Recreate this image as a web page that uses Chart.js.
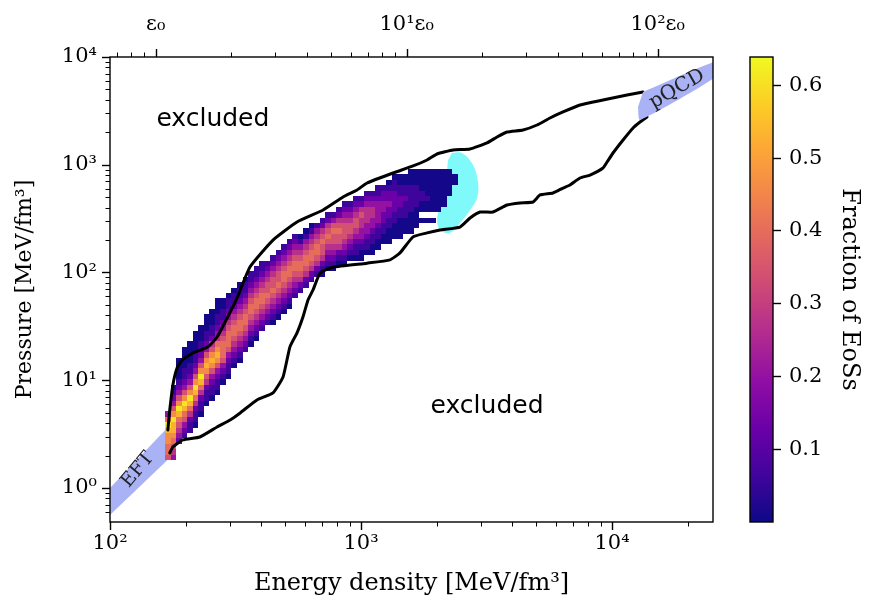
<!DOCTYPE html>
<html>
<head>
<meta charset="utf-8">
<script src="https://cdn.jsdelivr.net/npm/chart.js@4.4.1/dist/chart.umd.min.js"></script>
<style>
  html, body { margin: 0; padding: 0; background: #fff; }
  #wrap { width: 869px; height: 609px; }
</style>
</head>
<body>
<div id="wrap"><canvas id="chart" width="869" height="609"></canvas></div>
<script>
// ---------- data ----------
const eps0 = 152; // saturation energy density, MeV/fm^3

// histogram bins: uniform in log10(e) and log10(p)
const heatLogE0 = 2.22, heatLogEStep = 0.022;
const heatLogP0 = 0.26, heatLogPStep = 0.05;
// first pressure bin of each energy column, then the cells bottom -> top ('.' = empty)
const heatFirstRow = [0, 0, 3, 4, 5, 6, 8, 10, 11, 12, 14, 15, 17, 18, 20, 21, 22, 24, 25, 25,
  26, 27, 28, 30, 31, 32, 33, 34, 34, 35, 35, 36, 36, 37, 37, 37, 38, 38, 39, 40,
  40, 41, 41, 42, 42, 43, 44, 44, 44, 46, 47, 49, 51];
const heatCells = [
  '566778963', '34567889753210', '2345689753210000', '12356897532110000',
  '11246897532110000', '011246897532110000', '01124689753211000', '01124578753211000',
  '01123578754211000', '011235787643211000', '0123566654321100', '0112356665432110',
  '012345665432110', '012345665432110', '12345665432110', '01234566543211',
  '01234566543211', '1234566543211', '123456554321', '0123456554321',
  '0123456554321', '0123456654321', '0123456654321', '123456654321',
  '12456654310', '12456654310', '12456654310', '1245665431',
  '01245565421', '01234565421', '01234556531', '01245565421',
  '012345554321', '01234554321', '011234554321', '001233445421',
  '011233444321', '001123344321', '001123333211', '00112233221',
  '000112232210', '000112222110', '000011221100', '00011121100',
  '000011111000', '00001111000', '0.00110000', '0.00100000',
  '0.00000000', '00000000', '0000000', '00000', '00'];
// fraction of EoSs for each cell digit
const heatLevels = [0.01, 0.06, 0.13, 0.20, 0.27, 0.34, 0.40, 0.46, 0.53, 0.61];

// envelope of all EoSs
const upperE = [170, 173, 178, 185, 194, 214, 246, 267, 293, 321, 361, 446, 556, 706, 848, 964,
  1057, 1341, 1612, 1833, 2009, 2326, 2719, 3177, 3482, 3816, 4420, 5025, 5662, 6379, 7456,
  9207, 11477, 13291];
const upperP = [3.45, 5.3, 9.0, 13.0, 15.4, 17.9, 20.4, 25.2, 37.8, 58, 112.5, 200, 294, 380, 502, 583,
  677, 838, 974, 1107, 1258, 1371, 1400, 1592, 1809, 2013, 2101, 2338, 2716, 3088, 3585,
  3990, 4439, 4734];
const lowerE = [173, 178, 195, 228, 267, 301, 330, 385, 446, 489, 521, 556, 587, 615, 644, 687,
  773, 1057, 1305, 1430, 1612, 1833, 2064, 2480, 2719, 2980, 3358, 3816, 4300, 4845, 5167,
  5821, 6379, 6802, 7456, 8175, 9207, 9553, 10092, 11065, 12127, 12931, 13786];
const lowerP = [2.11, 2.4, 2.79, 2.97, 3.68, 4.28, 4.97, 6.56, 7.61, 10.7, 20.4, 27.5, 38.6, 55.6, 68.8, 99,
  112, 122, 131, 152, 214, 233, 248, 264, 320, 364, 364, 423, 442, 451, 524,
  547, 608, 649, 753, 803, 933, 1060, 1285, 1697, 2194, 2494, 2775];

// region of central densities of maximally massive stars
const cyanE = [2304, 2526, 2795, 2926, 2900, 2719, 2480, 2263, 2064, 2009, 2064, 2201, 2201, 2221];
const cyanP = [1285, 1285, 995, 677, 491, 380, 288, 233, 248, 307, 405, 583, 838, 1107];

// EFT and pQCD bands
const eftE = [95, 169, 177, 95];
const eftP = [0.88, 3.6, 2.0, 0.50];
const pqcdE = [13290, 27000, 27000, 12930, 12690];
const pqcdP = [4734, 9380, 6980, 2602, 3436];

// colour bar
const fracMin = 0, fracMax = 0.638;
const fracTicks = [0.1, 0.2, 0.3, 0.4, 0.5, 0.6];

// ---------- helpers ----------
const plasmaStops = [[13,8,135],[65,4,157],[106,0,168],[143,13,164],[177,42,144],[204,71,120],
  [225,100,98],[242,132,75],[252,166,54],[252,206,37],[240,249,33]];

function plasmaColor(v) {
  let t = (v - fracMin) / (fracMax - fracMin);
  t = Math.max(0, Math.min(1, t)) * (plasmaStops.length - 1);
  const i = Math.min(Math.floor(t), plasmaStops.length - 2);
  const f = t - i;
  const a = plasmaStops[i], b = plasmaStops[i + 1];
  return 'rgb(' + a.map((c, k) => Math.round(c + (b[k] - c) * f)).join(',') + ')';
}

function pts(es, ps) { return es.map((e, i) => ({ x: e, y: ps[i] })); }

const SUP = { '0': '⁰', '1': '¹', '2': '²', '3': '³', '4': '⁴', '-': '⁻' };
function sup(n) { return String(n).split('').map(c => SUP[c]).join(''); }
function isPow10(v) {
  const ex = Math.round(Math.log10(v));
  return Math.abs(v / Math.pow(10, ex) - 1) < 1e-6 ? ex : null;
}
function powLabel(v) {
  const ex = isPow10(v);
  return ex === null ? '' : '10' + sup(ex);
}
function epsLabel(v) {
  const ex = isPow10(v);
  if (ex === null) return '';
  return ex === 0 ? 'ε₀' : '10' + sup(ex) + 'ε₀';
}

const serif = 'DejaVu Serif';
const tickFont = { family: serif, size: 21 };

// ---------- plugins ----------
const heatmapPlugin = {
  id: 'heatmap',
  afterDatasetDraw(chart, args) {
    if (args.index !== 1) return; // right after the cyan region
    const { ctx, chartArea: a } = chart;
    const xs = chart.scales.x, ys = chart.scales.y;
    ctx.save();
    ctx.beginPath();
    ctx.rect(a.left, a.top, a.right - a.left, a.bottom - a.top);
    ctx.clip();
    heatCells.forEach((col, i) => {
      const x0 = Math.round(xs.getPixelForValue(Math.pow(10, heatLogE0 + i * heatLogEStep)));
      const x1 = Math.round(xs.getPixelForValue(Math.pow(10, heatLogE0 + (i + 1) * heatLogEStep)));
      for (let k = 0; k < col.length; k++) {
        if (col[k] === '.') continue;
        const j = heatFirstRow[i] + k;
        const y0 = Math.round(ys.getPixelForValue(Math.pow(10, heatLogP0 + j * heatLogPStep)));
        const y1 = Math.round(ys.getPixelForValue(Math.pow(10, heatLogP0 + (j + 1) * heatLogPStep)));
        ctx.fillStyle = plasmaColor(heatLevels[+col[k]]);
        ctx.fillRect(x0, y1, x1 - x0, y0 - y1);
      }
    });
    ctx.restore();
  }
};

function drawLogTicks(ctx, scale, side, edge) {
  for (const t of scale.ticks) {
    const v = t.value;
    if (!(v > 0)) continue;
    const ex = Math.floor(Math.log10(v) + 1e-9);
    const m = v / Math.pow(10, ex);
    if (Math.abs(m - Math.round(m)) > 1e-6) continue;
    const major = Math.round(m) === 1 || Math.round(m) === 10;
    const len = major ? 8 : 4.5;
    const p = Math.round(scale.getPixelForValue(v)) + 0.5;
    ctx.lineWidth = major ? 1.4 : 1;
    ctx.beginPath();
    if (side === 'left') { ctx.moveTo(edge, p); ctx.lineTo(edge - len, p); }
    if (side === 'bottom') { ctx.moveTo(p, edge); ctx.lineTo(p, edge + len); }
    if (side === 'top') { ctx.moveTo(p, edge); ctx.lineTo(p, edge - len); }
    ctx.stroke();
  }
}

const decorPlugin = {
  id: 'decor',
  afterDraw(chart) {
    const { ctx, chartArea: a, scales } = chart;
    const xs = scales.x, ys = scales.y, cb = scales.cb;
    ctx.save();
    // text annotations
    ctx.fillStyle = '#000';
    ctx.textAlign = 'center';
    ctx.textBaseline = 'middle';
    ctx.font = '25px "DejaVu Sans"';
    ctx.fillText('excluded', xs.getPixelForValue(257), ys.getPixelForValue(2602));
    ctx.fillText('excluded', xs.getPixelForValue(3177), ys.getPixelForValue(5.65));
    ctx.fillStyle = '#222';
    ctx.font = '19px "DejaVu Serif"';
    ctx.save();
    ctx.translate(xs.getPixelForValue(129), ys.getPixelForValue(1.47));
    ctx.rotate(-50 * Math.PI / 180);
    ctx.fillText('EFT', 0, 0);
    ctx.restore();
    ctx.save();
    ctx.font = '20px "DejaVu Serif"';
    ctx.translate(xs.getPixelForValue(18150), ys.getPixelForValue(5047));
    ctx.rotate(-30 * Math.PI / 180);
    ctx.fillText('pQCD', 0, 0);
    ctx.restore();

    // frame
    ctx.strokeStyle = '#000';
    ctx.lineWidth = 1.4;
    ctx.strokeRect(a.left, a.top, a.right - a.left, a.bottom - a.top);
    drawLogTicks(ctx, ys, 'left', a.left);
    drawLogTicks(ctx, xs, 'bottom', a.bottom);
    drawLogTicks(ctx, scales.x2, 'top', a.top);

    // colour bar
    const cbL = a.right + 37, cbW = 23;
    const yb = cb.getPixelForValue(fracMin), yt = cb.getPixelForValue(fracMax);
    const g = ctx.createLinearGradient(0, yb, 0, yt);
    plasmaStops.forEach((c, k) => g.addColorStop(k / (plasmaStops.length - 1), 'rgb(' + c.join(',') + ')'));
    ctx.fillStyle = g;
    ctx.fillRect(cbL, yt, cbW, yb - yt);
    ctx.lineWidth = 1.4;
    ctx.strokeRect(cbL, yt, cbW, yb - yt);
    ctx.fillStyle = '#000';
    ctx.textAlign = 'left';
    ctx.textBaseline = 'middle';
    ctx.font = tickFont.size + 'px "DejaVu Serif"';
    fracTicks.forEach(v => {
      const p = Math.round(cb.getPixelForValue(v)) + 0.5;
      ctx.beginPath();
      ctx.moveTo(cbL + cbW, p);
      ctx.lineTo(cbL + cbW + 8, p);
      ctx.stroke();
      ctx.fillText(v.toFixed(1), cbL + cbW + 16, p);
    });
    ctx.restore();
  }
};

// ---------- chart ----------
const bandColor = 'rgb(170,178,246)';
const lineStyle = { showLine: true, borderColor: '#000', borderWidth: 3, pointRadius: 0,
  tension: 0.15, borderJoinStyle: 'round', borderCapStyle: 'round', fill: false };

new Chart(document.getElementById('chart'), {
  type: 'scatter',
  data: {
    datasets: [
      { label: 'EFT', data: pts(eftE, eftP), showLine: true, fill: 'shape', backgroundColor: bandColor,
        borderWidth: 0, pointRadius: 0, order: 5 },
      { label: 'Mmax', data: pts(cyanE, cyanP), showLine: true, fill: 'shape', backgroundColor: '#7ff9f9',
        borderWidth: 0, pointRadius: 0, tension: 0.35, order: 4 },
      Object.assign({ label: 'upper', data: pts(upperE, upperP), order: 2 }, lineStyle),
      Object.assign({ label: 'lower', data: pts(lowerE, lowerP), order: 2 }, lineStyle),
      { label: 'pQCD', data: pts(pqcdE, pqcdP), showLine: true, fill: 'shape', backgroundColor: bandColor,
        borderWidth: 0, pointRadius: 0, tension: 0.2, order: 1 }
    ]
  },
  options: {
    responsive: false,
    animation: false,
    events: [],
    layout: { padding: 0 },
    plugins: { legend: { display: false }, tooltip: { enabled: false } },
    scales: {
      x: {
        type: 'logarithmic', position: 'bottom', min: 100, max: 25250,
        grid: { display: false, drawTicks: false }, border: { display: false },
        ticks: { autoSkip: false, maxRotation: 0, minRotation: 0, padding: 9, color: '#000',
          font: tickFont, callback: powLabel },
        title: { display: true, text: 'Energy density [MeV/fm³]', color: '#000',
          font: { family: serif, size: 24 }, padding: { top: 0, bottom: 11 } },
        afterFit(s) { s.height = 87; }
      },
      x2: {
        type: 'logarithmic', position: 'top', min: 100 / eps0, max: 25250 / eps0,
        grid: { display: false, drawTicks: false }, border: { display: false },
        ticks: { autoSkip: false, maxRotation: 0, minRotation: 0, padding: 20, color: '#000',
          font: tickFont, callback: epsLabel },
        afterFit(s) { s.height = 57; }
      },
      y: {
        type: 'logarithmic', position: 'left', min: 0.483, max: 10000,
        grid: { display: false, drawTicks: false }, border: { display: false },
        ticks: { autoSkip: false, padding: 13, color: '#000', font: tickFont, callback: powLabel },
        title: { display: true, text: 'Pressure [MeV/fm³]', color: '#000',
          font: { family: serif, size: 22 }, padding: { top: 12, bottom: 0 } },
        afterFit(s) { s.width = 110; }
      },
      cb: {
        type: 'linear', position: 'right', min: fracMin, max: fracMax,
        grid: { display: false, drawTicks: false }, border: { display: false },
        ticks: { display: false },
        title: { display: true, text: 'Fraction of EoSs', color: '#000',
          font: { family: serif, size: 24 }, padding: { top: 5, bottom: 0 } },
        afterFit(s) { s.width = 156; }
      }
    }
  },
  plugins: [heatmapPlugin, decorPlugin]
});
</script>
</body>
</html>
